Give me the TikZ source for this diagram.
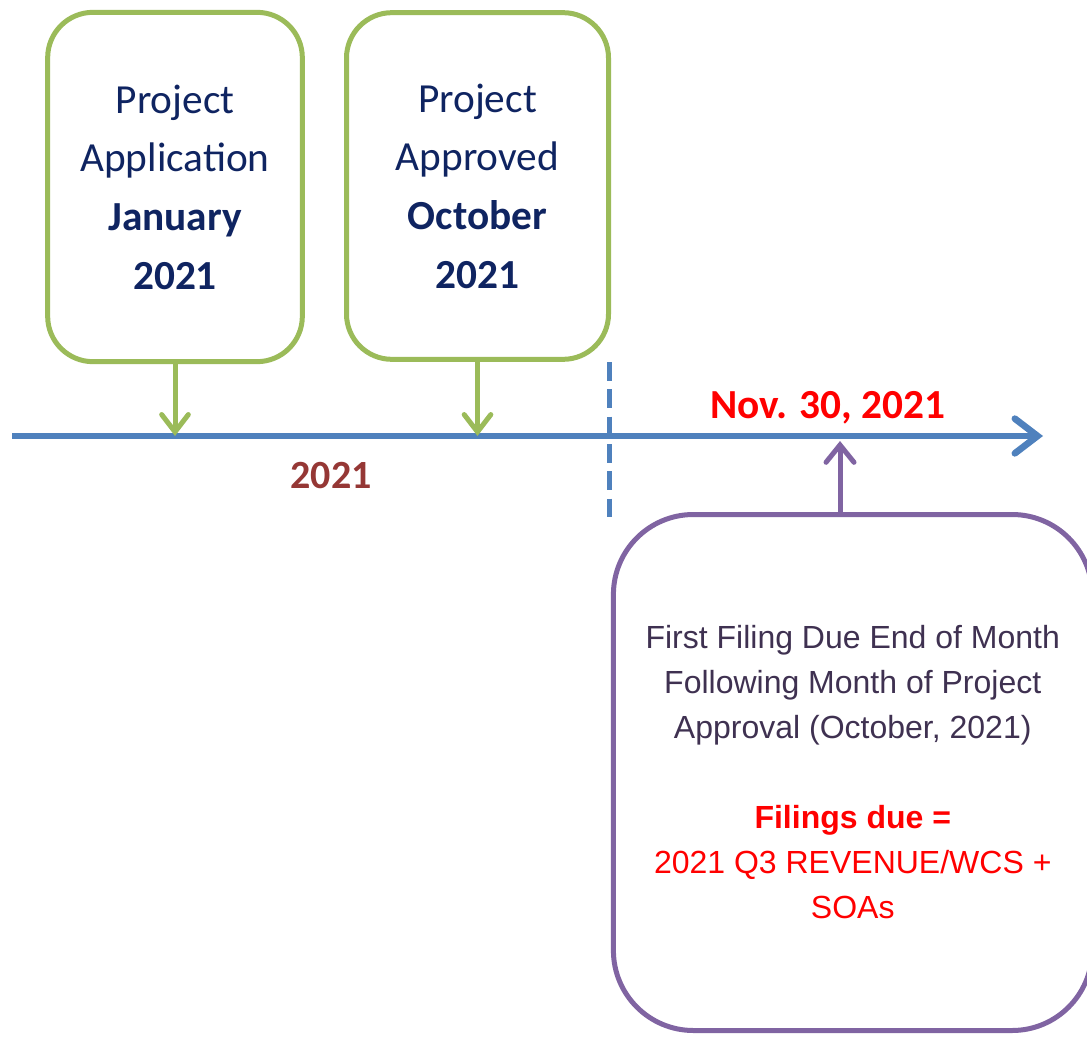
\documentclass[tikz,border=0pt]{standalone}
\usepackage{fontspec}
\setmainfont{Carlito}
\newfontfamily\arialf{Liberation Sans}
\usetikzlibrary{arrows.meta}
\definecolor{grn}{HTML}{9BBB59}
\definecolor{blu}{HTML}{4F81BD}
\definecolor{prp}{HTML}{8064A2}
\definecolor{navy}{HTML}{0F2461}
\definecolor{ptext}{HTML}{3F3151}
\definecolor{brn}{HTML}{953735}
\definecolor{rd}{HTML}{FF0000}
\begin{document}
\begin{tikzpicture}[x=0.75pt,y=-0.75pt,
  gbox/.style={draw=grn, line width=3.75pt, rounded corners=34pt, align=center,
    text=navy, font=\fontsize{31}{44}\selectfont, inner sep=0pt},
  pbox/.style={draw=prp, line width=3.75pt, rounded corners=60pt, align=center,
    text=ptext, font=\arialf\fontsize{24}{33.75}\selectfont, inner sep=0pt},
  garrow/.style={draw=grn, line width=3.75pt, line cap=round,
    -{Straight Barb[length=13pt,width=20pt,line cap=round]}},
  parrow/.style={draw=prp, line width=3.75pt, line cap=round,
    -{Straight Barb[length=13pt,width=21pt,line cap=round]}},
  tline/.style={draw=blu, line width=5pt,
    -{Straight Barb[length=17pt,width=26pt,line cap=round]}},
  dline/.style={draw=blu, line width=3.75pt, dash pattern=on 14pt off 6.5pt},
  lbl/.style={font=\bfseries\fontsize{31}{36}\selectfont, inner sep=0pt}
]
\useasboundingbox (0,0) rectangle (1087,1037);

\coordinate (tlstart) at (12,436);
\coordinate (tlend) at (1043,436);
\coordinate (dtop) at (609,362);
\coordinate (dbot) at (609,521);
\coordinate (ptip) at (840,441);

\node[gbox, minimum width=191pt, minimum height=262pt] (b1) at (175,187)
  {Project\\Application\\\textbf{January}\\\textbf{2021}};
\node[gbox, minimum width=196.5pt, minimum height=260pt] (b2) at (477.5,186)
  {Project\\Approved\\\textbf{October}\\\textbf{2021}};
\node[pbox, minimum width=359pt, minimum height=387pt] (pb) at (852.75,772.5)
  {First Filing Due End of Month\\Following Month of Project\\Approval (October, 2021)\\[33.75pt]
   \textcolor{rd}{\textbf{Filings due =}}\\\textcolor{rd}{2021 Q3 REVENUE/WCS +}\\\textcolor{rd}{SOAs}};

\draw[tline] (tlstart) -- (tlend);
\draw[dline] (dtop) -- (dbot);

\draw[garrow] (b1.south) -- (b1.south |- tlstart);
\draw[garrow] (b2.south) -- (b2.south |- tlstart);
\draw[parrow] (ptip |- pb.north) -- (ptip);

\node[lbl, text=rd] (nov) at (828,408) {Nov. 30, 2021};
\node[lbl, text=brn, font=\bfseries\fontsize{30}{36}\selectfont] (yr) at (331,476) {2021};
\end{tikzpicture}
\end{document}
